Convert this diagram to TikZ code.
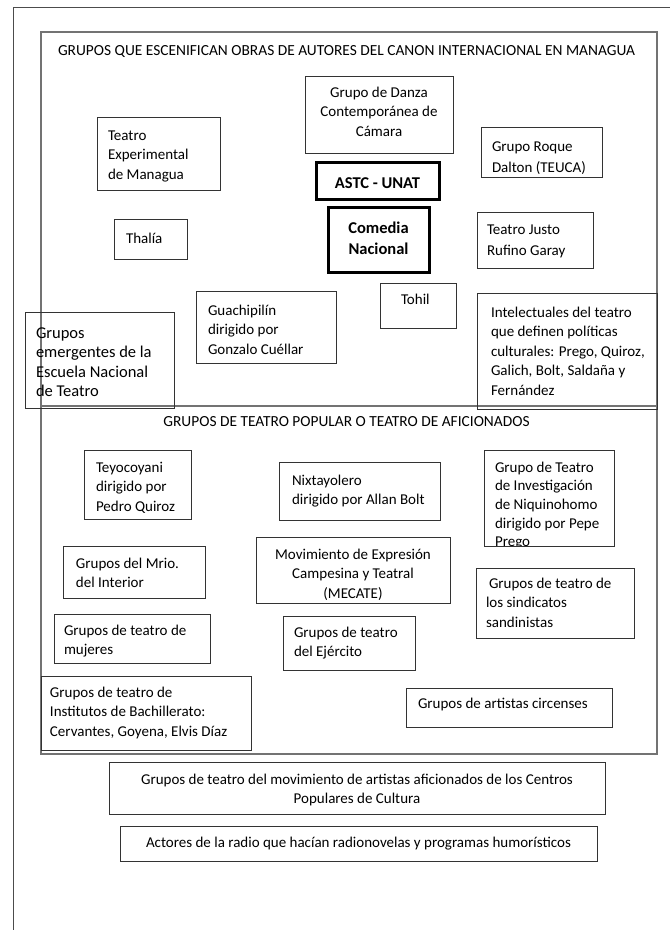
\documentclass[tikz,border=0pt]{standalone}
\usepackage{fontspec}
\setmainfont{Carlito}
\newcommand\nfnt{\fontsize{15pt}{19.5pt}\selectfont}
\newcommand\wfnt{\fontsize{15pt}{21.5pt}\selectfont}
\newcommand\tfnt{\fontsize{15pt}{18.7pt}\selectfont}
\newcommand\ttlfnt{\fontsize{15.4pt}{19.5pt}\selectfont}
\newcommand\bnfnt{\fontsize{16.5pt}{21pt}\selectfont\bfseries}
\newcommand\bigfnt{\fontsize{16.5pt}{19.5pt}\selectfont}
% #1 width, #2 height, #3 left pad, #4 first baseline from top, #5 font, #6 alignment, #7 text
\newcommand\tb[7]{\parbox[t][#2pt][t]{#1pt}{#5\vspace*{\dimexpr#4pt-\ht\strutbox\relax}\hspace*{#3pt}\parbox[t]{\dimexpr#1pt-#3pt\relax}{#6\strut#7}}}
\tikzset{
  bx/.style={draw=black!80, line width=0.8pt, inner sep=0pt, outer sep=0pt, anchor=north west},
  thickbx/.style={draw=black, line width=3pt, inner sep=0pt, outer sep=0pt, anchor=north west},
  container/.style={draw=black!55, line width=1.3pt, inner sep=0pt, outer sep=0pt, anchor=north west},
  frame/.style={draw=black!70, line width=0.8pt},
  ttl/.style={inner sep=0pt, anchor=base, font=\ttlfnt}
}
\begin{document}
\begin{tikzpicture}[x=1pt,y=-1pt]
\useasboundingbox (0,0) rectangle (670,930);
\draw[frame] (13,930) -- (13,7) -- (671,7);
% containers
\node[container, minimum width=616pt, minimum height=374pt] (canon) at (41,32) {};
\node[container, minimum width=616pt, minimum height=348pt] (popular) at (41,406) {};
\node[ttl] (ttlA) at (346.5,55) {GRUPOS QUE ESCENIFICAN OBRAS DE AUTORES DEL CANON INTERNACIONAL EN MANAGUA};
\node[ttl] (ttlB) at (346.5,426) {GRUPOS DE TEATRO POPULAR O TEATRO DE AFICIONADOS};
% canon boxes
\node[bx] (danza) at (305,76) {\tb{148}{77}{0}{21}{\nfnt}{\centering}{Grupo de Danza\\Contemporánea de\\Cámara}};
\node[bx] (exper) at (97,117) {\tb{123}{73}{11}{23}{\nfnt}{\raggedright}{Teatro\\Experimental\\de Managua}};
\node[bx] (roque) at (481,127) {\tb{121}{50}{11}{24}{\wfnt}{\raggedright}{Grupo Roque\\Dalton (TEUCA)}};
\node[thickbx] (astc) at (316,162) {\tb{123}{37}{0}{26}{\bnfnt}{\centering}{ASTC - UNAT}};
\node[thickbx] (comedia) at (328,207) {\tb{101}{65}{0}{26}{\bnfnt}{\centering}{Comedia\\Nacional}};
\node[bx] (thalia) at (114,219) {\tb{73}{40}{12}{24}{\nfnt}{\raggedright}{Thalía}};
\node[bx] (justo) at (477,212) {\tb{116}{56}{10}{22}{\wfnt}{\raggedright}{Teatro Justo\\Rufino Garay}};
\node[bx] (tohil) at (380,283) {\tb{76}{45}{21}{21}{\nfnt}{\raggedright}{Tohil}};
\node[bx] (guachi) at (196,291) {\tb{140}{72}{12}{24}{\nfnt}{\raggedright}{Guachipilín\\dirigido por\\Gonzalo Cuéllar}};
\node[bx] (emerg) at (25,312) {\tb{149}{96}{11}{26}{\bigfnt}{\raggedright}{Grupos\\emergentes de la\\Escuela Nacional\\de Teatro}};
\node[bx] (intel) at (477,293) {\tb{180}{116}{14}{24}{\nfnt}{\raggedright}{Intelectuales del teatro\\que definen políticas\\culturales: Prego, Quiroz,\\Galich, Bolt, Saldaña y\\Fernández}};
% popular boxes
\node[bx] (teyo) at (84,450) {\tb{107}{69}{12}{22}{\nfnt}{\raggedright}{Teyocoyani\\dirigido por\\Pedro Quiroz}};
\node[bx] (nixta) at (279,462) {\tb{161}{58}{13}{23}{\nfnt}{\raggedright}{Nixtayolero\\dirigido por Allan Bolt}};
\begin{scope}
\clip (484,450) rectangle (614,546);
\node[bx] (niqui) at (484,450) {\tb{130}{96}{11}{22}{\tfnt}{\raggedright}{Grupo de Teatro\\de Investigación\\de Niquinohomo\\dirigido por Pepe\\Prego}};
\end{scope}
\draw[draw=black!80, line width=0.8pt] (niqui.north west) rectangle (niqui.south east);
\node[bx] (mrio) at (63,546) {\tb{142}{52}{13}{22}{\nfnt}{\raggedright}{Grupos del Mrio.\\del Interior}};
\node[bx] (mecate) at (256,537) {\tb{194}{66}{0}{22}{\nfnt}{\centering}{Movimiento de Expresión\\Campesina y Teatral\\(MECATE)}};
\node[bx] (sindi) at (476,568) {\tb{158}{70}{10}{20}{\nfnt}{\raggedright}{\hspace*{3pt}Grupos de teatro de\\los sindicatos\\sandinistas}};
\node[bx] (mujeres) at (54,614) {\tb{156}{49}{10}{21}{\nfnt}{\raggedright}{Grupos de teatro de\\mujeres}};
\node[bx] (ejercito) at (283,616) {\tb{132}{54}{11}{21}{\nfnt}{\raggedright}{Grupos de teatro\\del Ejército}};
\node[bx] (bachi) at (41,676) {\tb{210}{74}{9}{21}{\nfnt}{\raggedright}{Grupos de teatro de\\Institutos de Bachillerato:\\Cervantes, Goyena, Elvis Díaz}};
\node[bx] (circo) at (406,688) {\tb{206}{39}{12}{20}{\nfnt}{\raggedright}{Grupos de artistas circenses}};
% bottom boxes
\node[bx] (centros) at (109,762) {\tb{496}{52}{0}{22}{\nfnt}{\centering}{Grupos de teatro del movimiento de artistas aficionados de los Centros\\Populares de Cultura}};
\node[bx] (actores) at (120,826) {\tb{477}{35}{0}{21}{\nfnt}{\centering}{Actores de la radio que hacían radionovelas y programas humorísticos}};
\end{tikzpicture}
\end{document}
